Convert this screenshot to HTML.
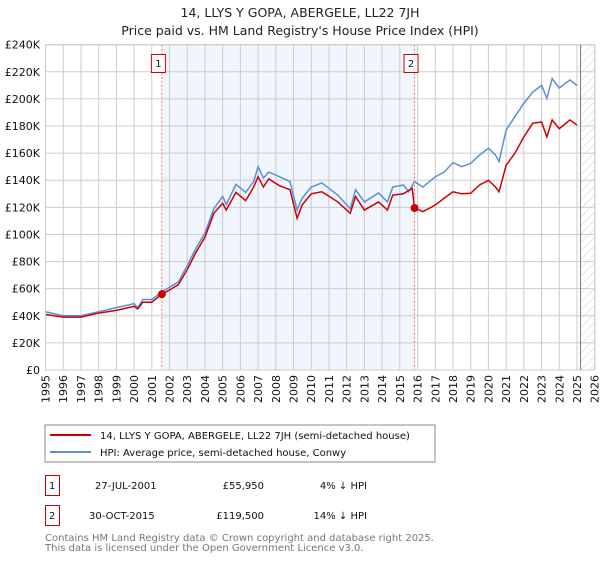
<!DOCTYPE html>
<html><head><meta charset="utf-8"><style>
body{margin:0;background:#fff;font-family:"DejaVu Sans","Liberation Sans",sans-serif;}
svg text{font-family:"DejaVu Sans","Liberation Sans",sans-serif;}
</style></head><body>
<svg id="chart" width="600" height="560" xmlns="http://www.w3.org/2000/svg">
<defs><pattern id="hatch" width="6" height="6" patternUnits="userSpaceOnUse" patternTransform="rotate(45)"><line x1="0" y1="0" x2="0" y2="6" stroke="#ccc" stroke-width="1"/></pattern></defs>
<text x="300" y="17" text-anchor="middle" font-size="12.5" fill="#222">14, LLYS Y GOPA, ABERGELE, LL22 7JH</text>
<text x="300" y="35" text-anchor="middle" font-size="12.5" fill="#222">Price paid vs. HM Land Registry's House Price Index (HPI)</text>
<g id="plot"></g>
<rect x="45" y="425" width="390" height="37" fill="#fff" stroke="#888"/>
<line x1="50" y1="435" x2="91" y2="435" stroke="#cc0000" stroke-width="2"/>
<text x="100" y="439" font-size="10" fill="#111">14, LLYS Y GOPA, ABERGELE, LL22 7JH (semi-detached house)</text>
<line x1="50" y1="452" x2="91" y2="452" stroke="#5b8fd4" stroke-width="2"/>
<text x="100" y="456" font-size="10" fill="#111">HPI: Average price, semi-detached house, Conwy</text>
<g font-size="10" fill="#111">
<rect x="45.5" y="475.5" width="14" height="20" fill="none" stroke="#cc0000"/>
<text x="49" y="489">1</text><text x="95" y="489">27-JUL-2001</text><text x="264" y="489" text-anchor="end">£55,950</text><text x="367" y="489" text-anchor="end">4% ↓ HPI</text></g>
<g font-size="10" fill="#111">
<rect x="45.5" y="505.5" width="14" height="20" fill="none" stroke="#cc0000"/>
<text x="49" y="519">2</text><text x="89" y="519">30-OCT-2015</text><text x="264" y="519" text-anchor="end">£119,500</text><text x="367" y="519" text-anchor="end">14% ↓ HPI</text></g>
<text x="45" y="541" font-size="10" fill="#777">Contains HM Land Registry data © Crown copyright and database right 2025.</text>
<text x="45" y="551" font-size="10" fill="#777">This data is licensed under the Open Government Licence v3.0.</text>
</svg>
<script>
const hpiYears=[1995,1996,1997,1998,1999,2000,2000.2,2000.5,2001,2001.5,2002,2002.5,2003,2003.5,2004,2004.5,2005,2005.2,2005.75,2006.3,2006.75,2007,2007.3,2007.6,2008.2,2008.8,2009.2,2009.5,2010,2010.6,2011.5,2012.2,2012.5,2013,2013.8,2014.3,2014.6,2015.2,2015.5,2015.83,2016.3,2017,2017.5,2018,2018.5,2019,2019.5,2020,2020.4,2020.6,2021,2021.5,2022,2022.5,2023,2023.3,2023.6,2024,2024.6,2025];
const hpiValues=[43,40,40,43,46,49,46,52,52,57,61,65,77,90,101,119,128,122,137,131,139,150,141.6,146,142.6,139,118,127,135,138,129,119,133,124,130.6,124,135,136.5,131.5,139,135,142.6,146,153,150,152.5,158.6,163.6,158.6,153.7,177,187,196.8,205,210,200.5,215,208,214,210];
const priceYears=[1995,1996,1997,1998,1999,2000,2000.2,2000.5,2001,2001.57,2002,2002.5,2003,2003.5,2004,2004.5,2005,2005.2,2005.75,2006.3,2006.75,2007,2007.3,2007.6,2008.2,2008.8,2009.2,2009.5,2010,2010.6,2011.5,2012.2,2012.5,2013,2013.8,2014.3,2014.6,2015.2,2015.7,2015.83,2016.3,2017,2017.5,2018,2018.5,2019,2019.5,2020,2020.4,2020.6,2021,2021.5,2022,2022.5,2023,2023.3,2023.6,2024,2024.6,2025];
const priceValues=[41,39,39,42,44,47,45,50,50,55.95,59,63,74,87,98,115.6,123,118,131,125,135,142.6,135,141,136,133,112,122,130,131.5,124,115.6,128,118,124,118,129,130,134,119.5,116.8,121.7,126.7,131.5,130,130.4,136.5,140,135,131.5,151,160,172,182,183,172,184.5,178,184.5,180.7];
const saleYears=[2001.57,2015.83];
const saleValues=[55.95,119.5];
const saleLabels=["1","2"];
const yTicks=[0,20,40,60,80,100,120,140,160,180,200,220,240];
const xTicks=[1995,1996,1997,1998,1999,2000,2001,2002,2003,2004,2005,2006,2007,2008,2009,2010,2011,2012,2013,2014,2015,2016,2017,2018,2019,2020,2021,2022,2023,2024,2025,2026];
const X0=45.5,X1=594.7,Y0=370,Y1=44.7;
const xs=y=>X0+(y-1995)/(2026-1995)*(X1-X0);
const ys=v=>Y0-v/240*(Y0-Y1);
const NS="http://www.w3.org/2000/svg";
const g=document.getElementById('plot');
function mk(t,a){const e=document.createElementNS(NS,t);for(const k in a)e.setAttribute(k,a[k]);g.appendChild(e);return e;}
let e=mk('rect',{x:X0,y:Y1,width:X1-X0,height:Y0-Y1,fill:'#fff'});


e=mk('rect',{x:xs(saleYears[0]),y:Y1,width:xs(saleYears[1])-xs(saleYears[0]),height:Y0-Y1,fill:'#eef3fc',opacity:0.8});


e=mk('rect',{x:xs(2025.2),y:Y1,width:X1-xs(2025.2),height:Y0-Y1,fill:'url(#hatch)'});


yTicks.forEach(v=>{
 let l=mk('line',{x1:X0,x2:X1,y1:ys(v),y2:ys(v),stroke:'#ccc'});
 
 
 let t=mk('text',{x:40,y:ys(v)+4,'text-anchor':'end','font-size':'11',fill:'#111'});
 t.textContent=v===0?'£0':'£'+v+'K';
 
 
});
xTicks.forEach(yr=>{
 let l=mk('line',{x1:xs(yr),x2:xs(yr),y1:Y1,y2:Y0,stroke:'#ccc'});
 
 
 const tx=xs(yr)+4, ty=375;
 let t=mk('text',{x:tx,y:ty,'text-anchor':'end','font-size':'11',fill:'#111',transform:'rotate(-90 '+tx+' '+ty+')'});
 t.textContent=yr;
 
 
});
e=mk('line',{x1:xs(2025.2),x2:xs(2025.2),y1:Y1,y2:Y0,stroke:'#888','stroke-width':1.2});


e=mk('polyline',{points:hpiYears.map((y,i)=>xs(y)+','+ys(hpiValues[i])).join(' '),fill:'none',stroke:'#5b8fd4','stroke-width':1.5});


e=mk('polyline',{points:priceYears.map((y,i)=>xs(y)+','+ys(priceValues[i])).join(' '),fill:'none',stroke:'#cc0000','stroke-width':1.5});


saleYears.forEach((yr,i)=>{
 let l=mk('line',{x1:xs(yr),x2:xs(yr),y1:Y1,y2:Y0,stroke:'#f07070','stroke-dasharray':'2,2'});
 
 
 let c=mk('circle',{cx:xs(yr),cy:ys(saleValues[i]),r:4,fill:'#cc0000'});
 
 
 let b=mk('rect',{x:xs(yr)-10.5,y:54.5,width:14,height:18,fill:'#fff',stroke:'#cc0000'});
 
 
 let t=mk('text',{x:xs(yr)-3.5,y:67,'text-anchor':'middle','font-size':'10',fill:'#111'});
 t.textContent=saleLabels[i];
 
 
});
e=mk('rect',{x:X0,y:Y1,width:X1-X0,height:Y0-Y1,fill:'none',stroke:'#ccc'});


</script>
</body></html>
